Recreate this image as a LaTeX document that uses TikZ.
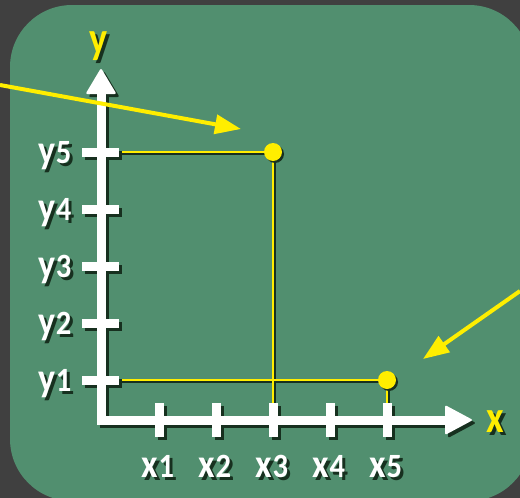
\documentclass[tikz,border=0pt]{standalone}
\usepackage{fontspec}
\setmainfont{Carlito}
\usetikzlibrary{arrows.meta}
\definecolor{bgdark}{HTML}{404040}
\definecolor{board}{HTML}{518F6F}
\definecolor{drk}{HTML}{17301F}
\definecolor{hl}{HTML}{FFEE00}
\newcommand\shtxt[2]{\rlap{\kern3pt\raisebox{-3pt}{\color{drk}#2}}{\color{#1}#2}}
\newcommand\lbl[2]{\scalebox{0.9}[1]{\fontsize{40}{40}\selectfont #1\fontsize{34}{34}\selectfont #2}}
\newcommand\axlbl[1]{\scalebox{0.85}[1]{\fontsize{45}{45}\selectfont #1}}
\newcommand\axesdraw[1]{%
  \draw[color=#1,line width=9pt,line join=miter] (101,90) -- (101,420) -- (448,420);
  \fill[color=#1,rounded corners=2pt] (101,68) -- (116.5,94) -- (85.5,94) -- cycle;
  \fill[color=#1,rounded corners=2pt] (473,420) -- (445,405) -- (445,435) -- cycle;
  \foreach \t in {152,209,266,323,380} \draw[color=#1,line width=9pt] (82,\t) -- (119,\t);
  \foreach \t in {159,216,273,330,387} \draw[color=#1,line width=9pt] (\t,403) -- (\t,437);
}
\begin{document}
\begin{tikzpicture}[x=1pt,y=-1pt,
  guide/.style={color=hl,line width=2.5pt},
  guideshadow/.style={color=drk,line width=2.5pt},
  pointer/.style={color=hl,line width=4pt,-{Triangle[length=26pt,width=19pt]}},
  lab/.style={anchor=base,inner sep=0pt,font=\bfseries}]
\fill[bgdark] (0,0) rectangle (520,498);
\useasboundingbox (0,0) rectangle (520,498);
\fill[board, rounded corners=62pt] (10,5) rectangle (531,501);
% named points
\coordinate (p1) at (273,152);
\coordinate (p2) at (387,380);
\coordinate (ty5) at (119,152);
\coordinate (ty1) at (119,380);
\coordinate (tx3) at (273,403);
\coordinate (tx5) at (387,403);
\coordinate (a1s) at (0,85);
\coordinate (a1e) at (241,129);
\coordinate (a2s) at (520,291);
\coordinate (a2e) at (423,359);
% guide lines
\draw[guideshadow] ([shift={(1.5,1.5)}]ty5) -- ([shift={(1.5,1.5)}]p1) -- ([shift={(1.5,1.5)}]tx3);
\draw[guideshadow] ([shift={(1.5,1.5)}]ty1) -- ([shift={(1.5,1.5)}]p2) -- ([shift={(1.5,1.5)}]tx5);
\draw[guide] (ty5) -- (p1) -- (tx3);
\draw[guide] (ty1) -- (p2) -- (tx5);
% axes
\begin{scope}[shift={(3,3)}]\axesdraw{drk}\end{scope}
\axesdraw{white}
% dots
\fill[drk] ([shift={(2,2)}]p1) circle[radius=9];
\fill[drk] ([shift={(2,2)}]p2) circle[radius=9];
\fill[hl] (p1) circle[radius=9];
\fill[hl] (p2) circle[radius=9];
% labels
\node[lab] (ly5) at (55,163) {\shtxt{white}{\lbl{y}{5}}};
\node[lab] (ly4) at (55,220) {\shtxt{white}{\lbl{y}{4}}};
\node[lab] (ly3) at (55,277) {\shtxt{white}{\lbl{y}{3}}};
\node[lab] (ly2) at (55,334) {\shtxt{white}{\lbl{y}{2}}};
\node[lab] (ly1) at (55,391) {\shtxt{white}{\lbl{y}{1}}};
\node[lab] (lx1) at (158,477) {\shtxt{white}{\lbl{x}{1}}};
\node[lab] (lx2) at (215,477) {\shtxt{white}{\lbl{x}{2}}};
\node[lab] (lx3) at (272,477) {\shtxt{white}{\lbl{x}{3}}};
\node[lab] (lx4) at (329,477) {\shtxt{white}{\lbl{x}{4}}};
\node[lab] (lx5) at (386,477) {\shtxt{white}{\lbl{x}{5}}};
\node[lab] (ylab) at (99,53) {\shtxt{hl}{\axlbl{y}}};
\node[lab] (xlab) at (495,432) {\shtxt{hl}{\axlbl{x}}};
% pointers
\draw[pointer] (a1s) -- (a1e);
\draw[pointer] (a2s) -- (a2e);
\end{tikzpicture}
\end{document}
